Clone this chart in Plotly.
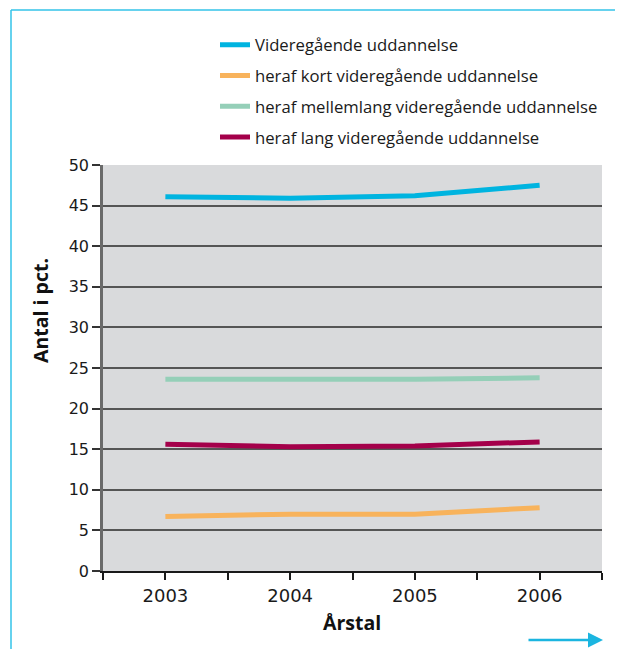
import plotly.graph_objects as go

years = [2003, 2004, 2005, 2006]
series_names = [
    "Videregående uddannelse",
    "heraf kort videregående uddannelse",
    "heraf mellemlang videregående uddannelse",
    "heraf lang videregående uddannelse",
]
videregaaende = [46.1, 45.9, 46.2, 47.5]
kort = [6.7, 7.0, 7.0, 7.8]
mellemlang = [23.6, 23.6, 23.6, 23.8]
lang = [15.6, 15.3, 15.4, 15.9]
colors = ["#00b4e0", "#f8b35c", "#95cfb8", "#a4004a"]

x_tickvals = [2002.5, 2003, 2003.5, 2004, 2004.5, 2005, 2005.5, 2006, 2006.5]
x_ticktext = ["", "2003", "", "2004", "", "2005", "", "2006", ""]
y_tickvals = [0, 5, 10, 15, 20, 25, 30, 35, 40, 45, 50]
x_title = "Årstal"
y_title = "Antal i pct."

fig = go.Figure()
for i, (name, vals, col) in enumerate(zip(series_names, [videregaaende, kort, mellemlang, lang], colors)):
    fig.add_trace(go.Scatter(x=years, y=vals, name=name, mode="lines", legendgroup=f"g{i}",
                             line=dict(color=col, width=5)))

# page offset of 8px (body margin)
W, H = 607, 641
L, R, T, B = 95, 13, 157, 78
PLOT_L, PLOT_R, PLOT_T, PLOT_B = 103, 602, 165, 571  # page coords
pw, ph = PLOT_R - PLOT_L, PLOT_B - PLOT_T


def px(x):
    return (x - PLOT_L) / pw


def py(y):
    return (PLOT_B - y) / ph


fig.update_layout(
    width=W, height=H,
    margin=dict(l=L, r=R, t=T, b=B, autoexpand=False),
    paper_bgcolor="white",
    plot_bgcolor="#d9dadc",
    font=dict(family="DejaVu Sans", size=16, color="#1a1a1a"),
    showlegend=True,
    legend=dict(x=px(215), y=py(27.5), xanchor="left", yanchor="top",
                font=dict(family="Open Sans", size=16.7, color="#1a1a1a"),
                tracegroupgap=6, itemwidth=30, bgcolor="rgba(0,0,0,0)"),
    xaxis=dict(range=[2002.5, 2006.5], tickvals=x_tickvals, ticktext=x_ticktext,
               ticks="outside", ticklen=7, tickcolor="#1a1a1a", tickwidth=1.5, showgrid=False,
               showline=True, linecolor="#1a1a1a", linewidth=2, zeroline=False,
               tickfont=dict(size=18)),
    yaxis=dict(range=[0, 50], tickvals=y_tickvals, ticks="outside", ticklen=8,
               tickcolor="#333333", tickwidth=1.5, showgrid=True, gridcolor="#555555", gridwidth=1.5,
               showline=True, linecolor="#6a6a6a", linewidth=2.5, zeroline=False,
               tickfont=dict(size=16)),
)

fig.add_annotation(xref="paper", yref="paper", x=px(352), y=py(622),
                   xanchor="center", yanchor="middle",
                   text=f"<b>{x_title}</b>", showarrow=False,
                   font=dict(family="Open Sans", size=19.5, color="#111111"))
fig.add_annotation(xref="paper", yref="paper", x=px(40), y=py(311),
                   xanchor="center", yanchor="middle",
                   text=f"<b>{y_title}</b>", showarrow=False, textangle=-90,
                   font=dict(family="Open Sans", size=19.5, color="#111111"))

# frame: top and left edges (right/bottom lie outside the view)
fig.add_shape(type="line", xref="paper", yref="paper",
              x0=px(11), y0=py(10), x1=px(640), y1=py(10),
              line=dict(color="#33c3e8", width=1.5), layer="above")
fig.add_shape(type="line", xref="paper", yref="paper",
              x0=px(11), y0=py(10), x1=px(11), y1=py(680),
              line=dict(color="#33c3e8", width=1.5), layer="above")

fig.add_annotation(xref="paper", yref="paper", x=px(603), y=py(640),
                   ax=-76, ay=0, axref="pixel", ayref="pixel",
                   showarrow=True, arrowhead=2, arrowsize=1.2, arrowwidth=2.5,
                   arrowcolor="#1bb5e0", text="")

fig.write_html("out.html")
